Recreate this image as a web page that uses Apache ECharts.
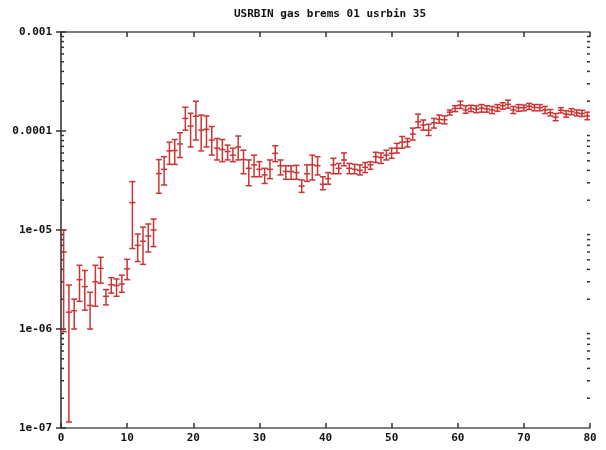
<!DOCTYPE html>
<html>
<head>
<meta charset="utf-8">
<script src="https://cdn.jsdelivr.net/npm/echarts@6/dist/echarts.min.js"></script>
<style>
  html, body { margin: 0; padding: 0; background: #fff; }
  #chart { width: 606px; height: 450px; }
</style>
</head>
<body>
<div id="chart"></div>
<script>
// USRBIN scoring: gas bremsstrahlung, binning 01, unit 35
const chartTitle = 'USRBIN gas brems 01 usrbin 35';

// bin centres along the x coordinate
const binCenters = [
  0.4, 1.2, 2.0, 2.8, 3.6, 4.4, 5.2, 6.0, 6.8, 7.6,
  8.4, 9.2, 10.0, 10.8, 11.6, 12.4, 13.2, 14.0, 14.8, 15.6,
  16.4, 17.2, 18.0, 18.8, 19.6, 20.4, 21.2, 22.0, 22.8, 23.6,
  24.4, 25.2, 26.0, 26.8, 27.6, 28.4, 29.2, 30.0, 30.8, 31.6,
  32.4, 33.2, 34.0, 34.8, 35.6, 36.4, 37.2, 38.0, 38.8, 39.6,
  40.4, 41.2, 42.0, 42.8, 43.6, 44.4, 45.2, 46.0, 46.8, 47.6,
  48.4, 49.2, 50.0, 50.8, 51.6, 52.4, 53.2, 54.0, 54.8, 55.6,
  56.4, 57.2, 58.0, 58.8, 59.6, 60.4, 61.2, 62.0, 62.8, 63.6,
  64.4, 65.2, 66.0, 66.8, 67.6, 68.4, 69.2, 70.0, 70.8, 71.6,
  72.4, 73.2, 74.0, 74.8, 75.6, 76.4, 77.2, 78.0, 78.8, 79.6
];

// scored value per bin
const values = [
  6.0e-6, 1.48e-6, 1.53e-6, 3.15e-6, 2.68e-6, 1.73e-6, 3.0e-6, 4.1e-6, 2.14e-6, 2.8e-6,
  2.75e-6, 2.85e-6, 4.05e-6, 1.89e-5, 7.0e-6, 7.7e-6, 8.7e-6, 1.0e-5, 3.72e-5, 4.1e-5,
  6.3e-5, 6.35e-5, 7.4e-5, 1.34e-4, 1.12e-4, 1.41e-4, 1.02e-4, 1.04e-4, 8.1e-5, 6.7e-5,
  6.5e-5, 6.2e-5, 5.7e-5, 6.9e-5, 5.15e-5, 4.2e-5, 4.55e-5, 4.1e-5, 3.6e-5, 4.1e-5,
  5.95e-5, 4.45e-5, 3.9e-5, 3.9e-5, 3.8e-5, 2.78e-5, 3.7e-5, 4.55e-5, 4.45e-5, 2.9e-5,
  3.3e-5, 4.55e-5, 4.2e-5, 5.1e-5, 4.2e-5, 4.1e-5, 4.0e-5, 4.3e-5, 4.55e-5, 5.5e-5,
  5.4e-5, 5.7e-5, 5.95e-5, 6.7e-5, 7.7e-5, 7.8e-5, 9.3e-5, 1.24e-4, 1.15e-4, 1.02e-4,
  1.21e-4, 1.31e-4, 1.3e-4, 1.55e-4, 1.69e-4, 1.83e-4, 1.63e-4, 1.69e-4, 1.66e-4, 1.7e-4,
  1.67e-4, 1.63e-4, 1.72e-4, 1.8e-4, 1.86e-4, 1.63e-4, 1.72e-4, 1.72e-4, 1.78e-4, 1.73e-4,
  1.72e-4, 1.63e-4, 1.53e-4, 1.38e-4, 1.62e-4, 1.48e-4, 1.57e-4, 1.52e-4, 1.5e-4, 1.42e-4
];

// lower end of each error bar
const lower = [
  9.4e-7, 1.15e-7, 1.0e-6, 1.9e-6, 1.55e-6, 1.0e-6, 1.7e-6, 2.9e-6, 1.75e-6, 2.3e-6,
  2.14e-6, 2.35e-6, 3.15e-6, 6.5e-6, 4.8e-6, 4.5e-6, 6.0e-6, 6.8e-6, 2.35e-5, 2.85e-5,
  4.6e-5, 4.6e-5, 5.4e-5, 1.02e-4, 6.9e-5, 8.1e-5, 6.3e-5, 6.9e-5, 5.7e-5, 5.1e-5,
  4.9e-5, 5.1e-5, 4.9e-5, 5.1e-5, 3.7e-5, 2.8e-5, 3.45e-5, 3.45e-5, 2.95e-5, 3.3e-5,
  4.9e-5, 3.6e-5, 3.25e-5, 3.25e-5, 3.25e-5, 2.4e-5, 3.1e-5, 3.2e-5, 3.6e-5, 2.55e-5,
  2.9e-5, 3.7e-5, 3.7e-5, 4.45e-5, 3.7e-5, 3.7e-5, 3.6e-5, 3.8e-5, 4.1e-5, 4.8e-5,
  4.7e-5, 5.1e-5, 5.3e-5, 6.0e-5, 6.7e-5, 6.9e-5, 8.1e-5, 1.08e-4, 1.02e-4, 9.0e-5,
  1.07e-4, 1.2e-4, 1.18e-4, 1.45e-4, 1.57e-4, 1.69e-4, 1.51e-4, 1.57e-4, 1.53e-4, 1.55e-4,
  1.55e-4, 1.5e-4, 1.58e-4, 1.66e-4, 1.7e-4, 1.5e-4, 1.58e-4, 1.6e-4, 1.65e-4, 1.6e-4,
  1.6e-4, 1.5e-4, 1.42e-4, 1.27e-4, 1.52e-4, 1.38e-4, 1.46e-4, 1.42e-4, 1.4e-4, 1.3e-4
];

// upper end of each error bar
const upper = [
  1.0e-5, 2.78e-6, 2.0e-6, 4.4e-6, 3.9e-6, 2.35e-6, 4.4e-6, 5.3e-6, 2.5e-6, 3.3e-6,
  3.2e-6, 3.5e-6, 5.06e-6, 3.08e-5, 9.1e-6, 1.07e-5, 1.15e-5, 1.29e-5, 5.14e-5, 5.5e-5,
  7.7e-5, 8.2e-5, 9.6e-5, 1.74e-4, 1.51e-4, 2.0e-4, 1.45e-4, 1.42e-4, 1.11e-4, 8.4e-5,
  8.2e-5, 7.2e-5, 6.7e-5, 8.9e-5, 6.4e-5, 5.1e-5, 5.7e-5, 4.9e-5, 4.2e-5, 5.1e-5,
  7.1e-5, 5.1e-5, 4.45e-5, 4.45e-5, 4.5e-5, 3.2e-5, 4.55e-5, 5.7e-5, 5.5e-5, 3.45e-5,
  3.8e-5, 5.3e-5, 4.7e-5, 6.0e-5, 4.7e-5, 4.6e-5, 4.55e-5, 4.8e-5, 4.9e-5, 6.1e-5,
  6.0e-5, 6.4e-5, 6.7e-5, 7.5e-5, 8.8e-5, 8.4e-5, 1.07e-4, 1.48e-4, 1.29e-4, 1.17e-4,
  1.34e-4, 1.45e-4, 1.42e-4, 1.63e-4, 1.8e-4, 2.0e-4, 1.8e-4, 1.82e-4, 1.8e-4, 1.85e-4,
  1.8e-4, 1.77e-4, 1.85e-4, 1.93e-4, 2.05e-4, 1.77e-4, 1.85e-4, 1.83e-4, 1.9e-4, 1.85e-4,
  1.85e-4, 1.77e-4, 1.65e-4, 1.5e-4, 1.72e-4, 1.6e-4, 1.68e-4, 1.63e-4, 1.62e-4, 1.55e-4
];

// decade tick labels, from 1e-7 up to 1e-3
const yTickLabels = ['1e-07', '1e-06', '1e-05', '0.0001', '0.001'];
const xTickLabels = ['0', '10', '20', '30', '40', '50', '60', '70', '80'];

const X_MIN = 0, X_MAX = 80, Y_MIN = 1e-7, Y_MAX = 1e-3;
const RED = '#cc3333';
const INK = '#111';
const FRAME = '#555';
const FONT = 'DejaVu Sans Mono';

// minor log ticks (2..9 x each decade), drawn on both vertical borders
const minorTicks = [];
for (let e = -7; e < -3; e++) {
  for (let m = 2; m <= 9; m++) minorTicks.push([X_MIN, m * Math.pow(10, e)]);
}

const points = binCenters.map((x, i) => [x, values[i], lower[i], upper[i]]);

function seg(x1, y1, x2, y2, color, width) {
  return {
    type: 'line',
    shape: { x1, y1, x2, y2 },
    style: { stroke: color, lineWidth: width, fill: null }
  };
}

function renderErrorBar(params, api) {
  const x = api.value(0);
  const c = api.coord([x, api.value(1)]);
  const lo = api.coord([x, api.value(2)]);
  const hi = api.coord([x, api.value(3)]);
  const cap = 3, mark = 3, w = 1.5;
  const px = c[0];
  return {
    type: 'group',
    children: [
      seg(px, hi[1], px, lo[1], RED, w),
      seg(px - cap, hi[1], px + cap, hi[1], RED, w),
      seg(px - cap, lo[1], px + cap, lo[1], RED, w),
      seg(px - mark, c[1], px + mark, c[1], RED, w)
    ]
  };
}

function renderMinorTick(params, api) {
  const left = api.coord([X_MIN, api.value(1)]);
  const right = api.coord([X_MAX, api.value(1)]);
  return {
    type: 'group',
    children: [
      seg(left[0], left[1], left[0] + 3, left[1], '#333', 1.5),
      seg(right[0], right[1], right[0] - 3, right[1], '#333', 1.5)
    ]
  };
}

const labelStyle = { color: INK, fontFamily: FONT, fontWeight: 'bold', fontSize: 11 };

function frameStyle() { return { color: FRAME, width: 1.5 }; }
function tickStyle() { return { color: '#333', width: 1.5 }; }

const chart = echarts.init(document.getElementById('chart'), null, { renderer: 'canvas' });
chart.setOption({
  animation: false,
  backgroundColor: '#fff',
  title: {
    text: chartTitle,
    left: 325, top: 4, textAlign: 'center',
    textStyle: { color: INK, fontFamily: FONT, fontWeight: 'bold', fontSize: 11 }
  },
  grid: { left: 61, right: 16, top: 32, bottom: 22, containLabel: false },
  xAxis: [
    {
      type: 'value', min: X_MIN, max: X_MAX, interval: 10, position: 'bottom',
      axisLine: { show: true, lineStyle: frameStyle() },
      axisTick: { show: true, inside: true, length: 5, lineStyle: tickStyle() },
      axisLabel: {
        ...labelStyle, margin: 5,
        formatter: v => xTickLabels[Math.round(v / 10)]
      },
      splitLine: { show: false }
    },
    {
      type: 'value', min: X_MIN, max: X_MAX, interval: 10, position: 'top',
      axisLine: { show: true, lineStyle: frameStyle() },
      axisTick: { show: true, inside: true, length: 5, lineStyle: tickStyle() },
      axisLabel: { show: false },
      splitLine: { show: false }
    }
  ],
  yAxis: [
    {
      type: 'log', logBase: 10, min: Y_MIN, max: Y_MAX, position: 'left',
      axisLine: { show: true, lineStyle: frameStyle() },
      axisTick: { show: true, inside: true, length: 5, lineStyle: tickStyle() },
      minorTick: { show: false },
      axisLabel: {
        ...labelStyle, margin: 9,
        formatter: v => yTickLabels[Math.round(Math.log10(v)) + 7]
      },
      splitLine: { show: false }
    },
    {
      type: 'log', logBase: 10, min: Y_MIN, max: Y_MAX, position: 'right',
      axisLine: { show: true, lineStyle: frameStyle() },
      axisTick: { show: true, inside: true, length: 5, lineStyle: tickStyle() },
      minorTick: { show: false },
      axisLabel: { show: false },
      splitLine: { show: false }
    }
  ],
  series: [
    {
      type: 'custom', name: 'log minor ticks', xAxisIndex: 0, yAxisIndex: 0,
      renderItem: renderMinorTick, data: minorTicks, silent: true, clip: false,
      encode: { x: 0, y: 1 }
    },
    {
      type: 'custom', name: 'usrbin 35', xAxisIndex: 0, yAxisIndex: 0,
      renderItem: renderErrorBar, data: points, clip: true, silent: true,
      encode: { x: 0, y: 1 }
    }
  ]
});
</script>
</body>
</html>
